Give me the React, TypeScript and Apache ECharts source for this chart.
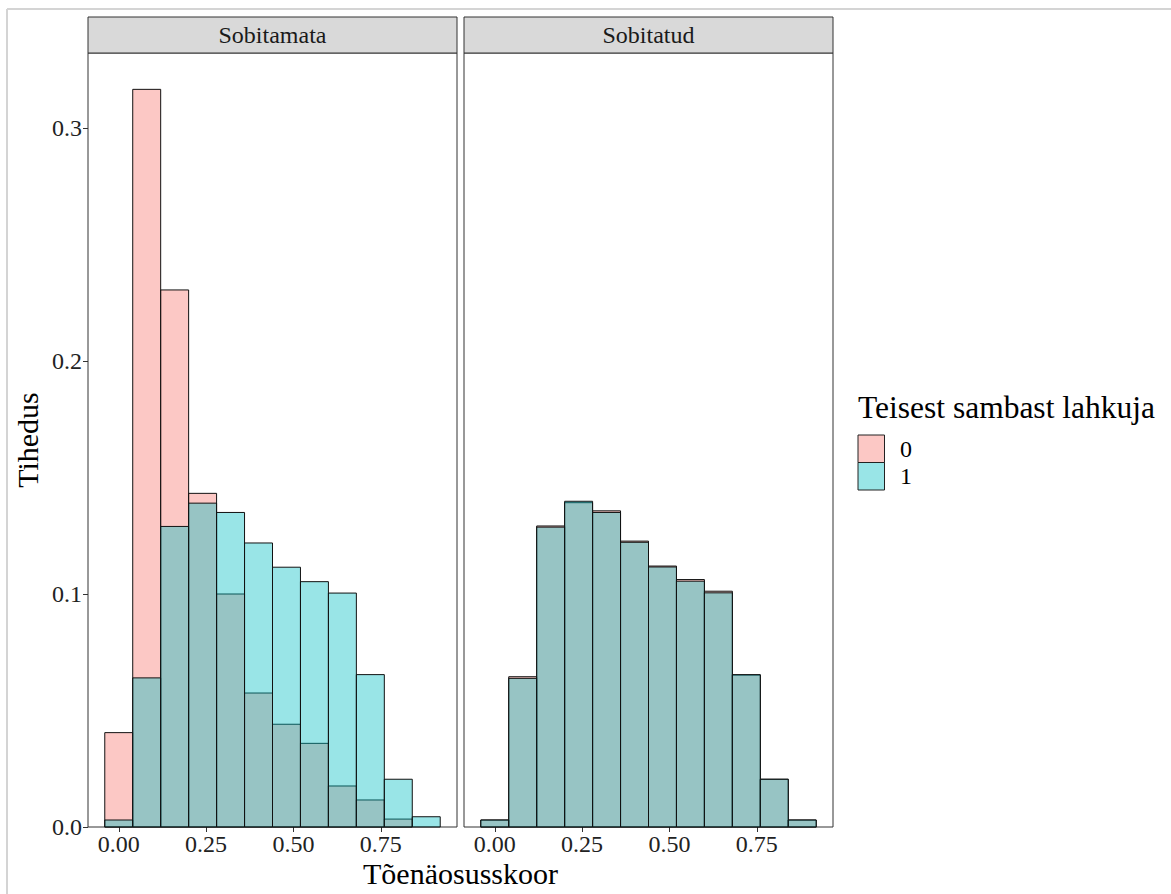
import React, { useEffect, useRef } from "react";
import * as echarts from "echarts";

// ---- data ----
const binCenters = [0, 0.08, 0.16, 0.24, 0.32, 0.4, 0.48, 0.56, 0.64, 0.72, 0.8, 0.88];
const binWidth = 0.08;
const panelNames = ["Sobitamata", "Sobitatud"];
const groupNames = ["0", "1"];
// Sobitamata (unmatched)
const unmatched0 = [0.0405, 0.3166, 0.2305, 0.1432, 0.1, 0.0575, 0.0441, 0.0359, 0.0176, 0.0116, 0.0034, 0];
const unmatched1 = [0.003, 0.064, 0.129, 0.139, 0.135, 0.1219, 0.1115, 0.1053, 0.1004, 0.0654, 0.0205, 0.0044];
// Sobitatud (matched)
const matched0 = [0.003, 0.0645, 0.1292, 0.1392, 0.1357, 0.1227, 0.112, 0.1062, 0.1012, 0.0652, 0.0205, 0.003];
const matched1 = [0.003, 0.0638, 0.1287, 0.1398, 0.135, 0.1222, 0.1116, 0.1055, 0.1005, 0.0654, 0.0205, 0.003];
const xTicks = [0, 0.25, 0.5, 0.75];
const yTicks = [0, 0.1, 0.2, 0.3];
const xTitle = "Tõenäosusskoor";
const yTitle = "Tihedus";
const legendTitle = "Teisest sambast lahkuja";

const FONT = "Liberation Serif";
const PINK = "rgba(248,118,109,0.4)";
const TEAL = "rgba(0,191,196,0.4)";

function toBins(vals: number[]) {
  return binCenters
    .map((c, i) => [c - binWidth / 2, c + binWidth / 2, vals[i]])
    .filter((d) => d[2] > 0);
}

function histSeries(vals: number[], idx: number, fill: string, name: string) {
  return {
    type: "custom",
    name,
    xAxisIndex: idx,
    yAxisIndex: idx,
    data: toBins(vals),
    renderItem: (params: any, api: any) => {
      const p0 = api.coord([api.value(0), api.value(2)]);
      const p1 = api.coord([api.value(1), 0]);
      return {
        type: "rect",
        shape: { x: p0[0], y: p0[1], width: p1[0] - p0[0], height: p1[1] - p0[1] },
        style: { fill, stroke: "#111", lineWidth: 1 },
      };
    },
  };
}

const X_MIN = -0.088;
const X_MAX = 0.968;
const Y_MAX = 0.3322;
const TOP = 53;
const HEIGHT = 774;
const PANEL_W = 369;
const LEFTS = [88, 464];

function xAxis(idx: number) {
  return {
    type: "value",
    gridIndex: idx,
    min: X_MIN,
    max: X_MAX,
    axisLine: { show: false, onZero: false },
    splitLine: { show: false },
    axisTick: { show: true, customValues: xTicks, length: 5, lineStyle: { color: "#333", width: 1 } },
    axisLabel: {
      customValues: xTicks,
      formatter: (v: number) => v.toFixed(2),
      fontFamily: FONT,
      fontSize: 24,
      color: "#222",
      margin: 5,
    },
  };
}

function yAxis(idx: number) {
  return {
    type: "value",
    gridIndex: idx,
    min: 0,
    max: Y_MAX,
    axisLine: { show: false, onZero: false },
    splitLine: { show: false },
    axisTick: { show: idx === 0, customValues: yTicks, length: 5, lineStyle: { color: "#333", width: 1 } },
    axisLabel: {
      show: idx === 0,
      customValues: yTicks,
      formatter: (v: number) => v.toFixed(1),
      fontFamily: FONT,
      fontSize: 24,
      color: "#222",
      margin: 6,
    },
  };
}

export default function App() {
  const ref = useRef<HTMLDivElement>(null);
  useEffect(() => {
    document.body.style.margin = "0";
    const chart = echarts.init(ref.current!, undefined, { renderer: "svg" });
    const graphics: any[] = [
      // outer frame (light gray)
      { type: "line", shape: { x1: 7, y1: 9, x2: 1171, y2: 9 }, style: { stroke: "#d4d4d4", lineWidth: 2 } },
      { type: "line", shape: { x1: 7, y1: 9, x2: 7, y2: 894 }, style: { stroke: "#d4d4d4", lineWidth: 2 } },
    ];
    panelNames.forEach((name, i) => {
      graphics.push({
        type: "rect",
        shape: { x: LEFTS[i], y: 17, width: PANEL_W, height: TOP - 17 },
        style: { fill: "#d9d9d9", stroke: "#333", lineWidth: 1 },
      });
      graphics.push({
        type: "text",
        x: LEFTS[i] + PANEL_W / 2,
        y: 35,
        style: { text: name, font: `24px "${FONT}"`, fill: "#1a1a1a", align: "center", verticalAlign: "middle" },
      });
    });
    graphics.push({
      type: "text",
      x: (LEFTS[0] + LEFTS[1] + PANEL_W) / 2,
      y: 873,
      style: { text: xTitle, font: `30px "${FONT}"`, fill: "#000", align: "center", verticalAlign: "middle" },
    });
    graphics.push({
      type: "text",
      x: 27,
      y: TOP + HEIGHT / 2,
      rotation: Math.PI / 2,
      style: { text: yTitle, font: `30px "${FONT}"`, fill: "#000", align: "center", verticalAlign: "middle" },
    });
    graphics.push({
      type: "text",
      x: 858,
      y: 407,
      style: { text: legendTitle, font: `31.5px "${FONT}"`, fill: "#000", align: "left", verticalAlign: "middle" },
    });
    [PINK, TEAL].forEach((c, i) => {
      graphics.push({
        type: "rect",
        shape: { x: 858, y: 435 + i * 27.5, width: 26.5, height: 27.5 },
        style: { fill: c, stroke: "#222", lineWidth: 1 },
      });
      graphics.push({
        type: "text",
        x: 900,
        y: 449 + i * 27,
        style: { text: groupNames[i], font: `24px "${FONT}"`, fill: "#000", align: "left", verticalAlign: "middle" },
      });
    });

    chart.setOption({
      animation: false,
      backgroundColor: "#fff",
      grid: LEFTS.map((l) => ({
        left: l,
        top: TOP,
        width: PANEL_W,
        height: HEIGHT,
        show: true,
        borderColor: "#333",
        borderWidth: 1,
        backgroundColor: "transparent",
      })),
      xAxis: [xAxis(0), xAxis(1)],
      yAxis: [yAxis(0), yAxis(1)],
      series: [
        histSeries(unmatched0, 0, PINK, "0"),
        histSeries(unmatched1, 0, TEAL, "1"),
        histSeries(matched0, 1, PINK, "0"),
        histSeries(matched1, 1, TEAL, "1"),
      ],
      graphic: graphics,
    });
    return () => chart.dispose();
  }, []);
  return <div ref={ref} style={{ width: 1171, height: 894 }} />;
}
